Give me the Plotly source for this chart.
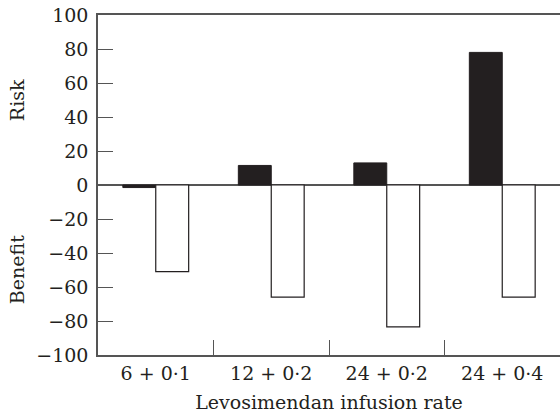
import plotly.graph_objects as go

categories = ["6 + 0·1", "12 + 0·2", "24 + 0·2", "24 + 0·4"]
risk = [-1.5, 11.5, 13, 78]
benefit = [-51, -66, -83.5, -66]
y_ticks = [-100, -80, -60, -40, -20, 0, 20, 40, 60, 80, 100]

ink = "#231f20"
axis_col = "#555555"
font_family = "DejaVu Serif"
fs = 19

fig = go.Figure()
fig.add_trace(go.Bar(x=categories, y=risk, name="Risk",
                     marker=dict(color=ink, line=dict(color=ink, width=1))))
fig.add_trace(go.Bar(x=categories, y=benefit, name="Benefit",
                     marker=dict(color="white", line=dict(color=ink, width=1.2))))

fig.update_layout(
    width=560, height=416,
    margin=dict(l=98, r=0, t=15, b=61),
    paper_bgcolor="white", plot_bgcolor="white",
    barmode="group", bargap=0.43, bargroupgap=0,
    showlegend=False,
    font=dict(family=font_family, size=fs, color=ink),
    xaxis=dict(
        type="category", range=[-0.5, 3.5],
        showline=True, linecolor=axis_col, linewidth=1.5, mirror=True,
        ticks="inside", ticklen=15, tickcolor=axis_col, tickwidth=1.2,
        tickson="boundaries", showgrid=False,
        ticklabelstandoff=0,
        title=dict(text="Levosimendan infusion rate", standoff=13,
                   font=dict(family=font_family, size=fs, color=ink)),
    ),
    yaxis=dict(
        range=[-100, 100], tickvals=y_ticks,
        showline=True, linecolor=axis_col, linewidth=1.5,
        ticks="inside", ticklen=15, tickcolor=axis_col, tickwidth=1.2,
        showgrid=False, zeroline=True, zerolinecolor=axis_col, zerolinewidth=1.5,
        ticklabelstandoff=4,
    ),
    annotations=[
        dict(text="Risk", x=-0.175, y=50, xref="paper", yref="y",
             textangle=-90, showarrow=False, xanchor="center", yanchor="middle",
             font=dict(family=font_family, size=fs, color=ink)),
        dict(text="Benefit", x=-0.175, y=-50, xref="paper", yref="y",
             textangle=-90, showarrow=False, xanchor="center", yanchor="middle",
             font=dict(family=font_family, size=fs, color=ink)),
    ],
)

fig.write_html("out.html")
